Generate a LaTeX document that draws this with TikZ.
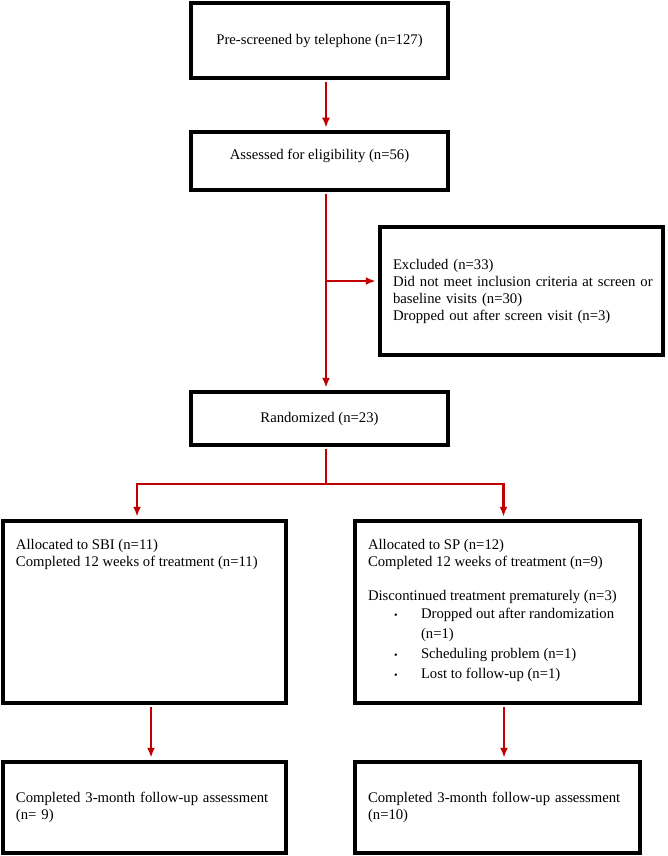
\documentclass[tikz,border=0pt]{standalone}
\usepackage{fontspec}
\setmainfont{Liberation Serif}
\usetikzlibrary{arrows.meta}
\definecolor{flowred}{RGB}{192,0,0}
\tikzset{
    box/.style={draw, line width=4.5pt, inner xsep=13pt, inner ysep=0pt, font=\fontsize{14.7}{17}\selectfont},
    flow/.style={draw=flowred, line width=2.4pt, shorten >=2pt},
}
\begin{document}
\begin{tikzpicture}[x=1pt,y=-1pt,>={Latex[length=10pt,width=8pt]}]
        \useasboundingbox (0,0) rectangle (668,856);
        % screening and eligibility
        \node[box, minimum width=257pt, minimum height=75pt] (screen) at (319.5,40.5) {Pre-screened by telephone (n=127)};
        \node[box, minimum width=257pt, minimum height=58pt, text depth=14pt] (assess) at (319.5,161) {Assessed for eligibility (n=56)};
        \node[box, minimum width=283pt, minimum height=128pt, text width=257pt, align=left] (excl) at (521.5,291) {Excluded (n=33)\\\mbox{Did not meet inclusion criteria at screen or}\\baseline visits (n=30)\\Dropped out after screen visit (n=3)};
        \node[box, minimum width=257pt, minimum height=53pt] (rand) at (319.5,418.5) {Randomized (n=23)};
        % allocation
        \node[box, minimum width=283pt, minimum height=182pt] (sbi) at (144.5,612) {\begin{minipage}[c][145pt][t]{257pt}
            Allocated to SBI (n=11)\\
            Completed 12 weeks of treatment (n=11)
        \end{minipage}};
        \node[box, minimum width=285pt, minimum height=182pt] (sp) at (497.5,612) {\begin{minipage}[c][145pt][t]{259pt}
            Allocated to SP (n=12)\\
            Completed 12 weeks of treatment (n=9)\\[17pt]
            Discontinued treatment prematurely (n=3)\\[1pt]
            \hspace*{26pt}\makebox[27pt][l]{\fontsize{10}{10}\selectfont\textbullet}Dropped out after randomization\\[3pt]
            \hspace*{53pt}(n=1)\\[3pt]
            \hspace*{26pt}\makebox[27pt][l]{\fontsize{10}{10}\selectfont\textbullet}Scheduling problem (n=1)\\[3pt]
            \hspace*{26pt}\makebox[27pt][l]{\fontsize{10}{10}\selectfont\textbullet}Lost to follow-up (n=1)
        \end{minipage}};
        % follow-up
        \node[box, minimum width=283pt, minimum height=91pt, text width=257pt, align=left] (fu1) at (144.5,807.5) {Completed 3-month follow-up assessment\\(n= 9)};
        \node[box, minimum width=285pt, minimum height=91pt, text width=259pt, align=left] (fu2) at (497.5,807.5) {Completed 3-month follow-up assessment\\(n=10)};
        % connectors
        \coordinate (tee) at (326,281);
        \coordinate (fork) at (326,484);
        \draw[flow,->,shorten <=2pt] ([xshift=6.5pt]screen.south) -- ([xshift=6.5pt]assess.north);
        \draw[flow,->,shorten <=2pt] ([xshift=6.5pt]assess.south) -- ([xshift=6.5pt]rand.north);
        \draw[flow,->] (tee) -- (tee -| excl.west);
        \draw[flow,shorten >=0pt,shorten <=2pt] ([xshift=6.5pt]rand.south) -- (fork);
        \draw[flow,->] (fork) -| ([xshift=-7.5pt]sbi.north);
        \draw[flow,->] (fork) -| ([xshift=6pt]sp.north);
        \draw[flow,->,shorten <=2pt] ([xshift=6.5pt]sbi.south) -- ([xshift=6.5pt]fu1.north);
        \draw[flow,->,shorten <=2pt] ([xshift=6.5pt]sp.south) -- ([xshift=6.5pt]fu2.north);
\end{tikzpicture}
\end{document}
